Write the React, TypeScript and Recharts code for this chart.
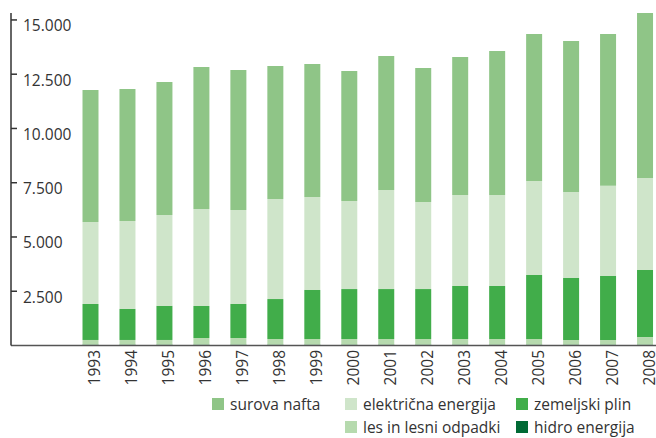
import { Bar, BarChart, Legend, XAxis, YAxis } from "recharts";

const YEARS = [
  "1993", "1994", "1995", "1996", "1997", "1998", "1999", "2000",
  "2001", "2002", "2003", "2004", "2005", "2006", "2007", "2008",
];

// vrednosti odčitane s slike
const HIDRO = [40, 40, 40, 40, 40, 40, 40, 40, 40, 40, 40, 40, 40, 40, 40, 40];
const LES = [215, 215, 215, 305, 305, 260, 260, 260, 260, 260, 260, 260, 260, 215, 215, 350];
const PLIN = [1660, 1430, 1570, 1475, 1570, 1840, 2260, 2300, 2300, 2300, 2440, 2440, 2950, 2860, 2950, 3090];
const ELEKTRIKA = [3780, 4055, 4190, 4470, 4330, 4610, 4285, 4055, 4560, 4010, 4190, 4190, 4330, 3960, 4150, 4240];
const NAFTA = [6080, 6080, 6130, 6540, 6450, 6130, 6130, 5990, 6180, 6180, 6360, 6640, 6770, 6960, 7000, 7600];

const Y_TICKS = [2500, 5000, 7500, 10000, 12500, 15000];

const SERIES = [
  { key: "hidro", name: "hidro energija", color: "#006a35", col: 3, row: 2 },
  { key: "les", name: "les in lesni odpadki", color: "#b6daae", col: 2, row: 2 },
  { key: "plin", name: "zemeljski plin", color: "#41ad4a", col: 3, row: 1 },
  { key: "elektrika", name: "električna energija", color: "#cfe5ca", col: 2, row: 1 },
  { key: "nafta", name: "surova nafta", color: "#8fc587", col: 1, row: 1 },
];

const FONT = "'Open Sans', 'Liberation Sans', sans-serif";
const TEXT = "#333333";

const chartData = YEARS.map((year, i) => ({
  year,
  hidro: HIDRO[i],
  les: LES[i],
  plin: PLIN[i],
  elektrika: ELEKTRIKA[i],
  nafta: NAFTA[i],
}));

const formatThousands = (v: number) => String(v).replace(/\B(?=(\d{3})+(?!\d))/g, ".");

function YTick({ x, y, payload }: any) {
  return (
    <text x={x} y={y + 11.5} fill={TEXT} fontSize={15.5} fontFamily={FONT} textAnchor="start">
      {formatThousands(payload.value)}
    </text>
  );
}

function XTick({ x, y, payload }: any) {
  return (
    <text
      transform={`translate(${x + 9},${y + 4.5}) rotate(-90)`}
      fill={TEXT}
      fontSize={15.5}
      fontFamily={FONT}
      textAnchor="end"
    >
      {payload.value}
    </text>
  );
}

function LegendBox() {
  return (
    <div
      style={{
        display: "grid",
        gridTemplateColumns: "133px 171px 150px",
        gridTemplateRows: "23px 23px",
        marginLeft: 204,
        paddingTop: 4,
        fontFamily: FONT,
        fontSize: 15.5,
        color: TEXT,
      }}
    >
      {SERIES.map((s) => (
        <div
          key={s.key}
          style={{
            gridColumn: s.col,
            gridRow: s.row,
            display: "flex",
            alignItems: "center",
            whiteSpace: "nowrap",
          }}
        >
          <span style={{ width: 12, height: 12, background: s.color, marginRight: 6, flex: "none" }} />
          {s.name}
        </div>
      ))}
    </div>
  );
}

export default function App() {
  // the last bar sits at the very right edge, so the page margin is dropped
  // and the same 8px offset is applied as padding instead
  return (
    <div style={{ width: 648, height: 430, padding: "8px 0 0 8px", overflow: "hidden", fontFamily: FONT }}>
      <style>{"body { margin: 0; }"}</style>
      <BarChart
        width={648}
        height={430}
        data={chartData}
        margin={{ top: 5, right: 0, bottom: 0, left: 3 }}
      >
        <XAxis
          dataKey="year"
          height={42.5}
          padding={{ left: 61.5, right: -8 }}
          tickLine={false}
          tickSize={0}
          tickMargin={0}
          axisLine={{ stroke: "#555", strokeWidth: 1.5 }}
          tick={<XTick />}
          interval={0}
        />
        <YAxis
          mirror
          domain={[0, "dataMax"]}
          ticks={Y_TICKS}
          tickSize={6}
          tickMargin={6}
          axisLine={{ stroke: "#333", strokeWidth: 1.5 }}
          tickLine={{ stroke: "#333", strokeWidth: 1.5 }}
          tick={<YTick />}
        />
        <Legend
          verticalAlign="bottom"
          content={<LegendBox />}
          wrapperStyle={{ left: 0, bottom: 0, width: 648, height: 50 }}
        />
        {SERIES.map((s) => (
          <Bar
            key={s.key}
            dataKey={s.key}
            name={s.name}
            stackId="a"
            fill={s.color}
            barSize={16}
            isAnimationActive={false}
          />
        ))}
      </BarChart>
    </div>
  );
}
